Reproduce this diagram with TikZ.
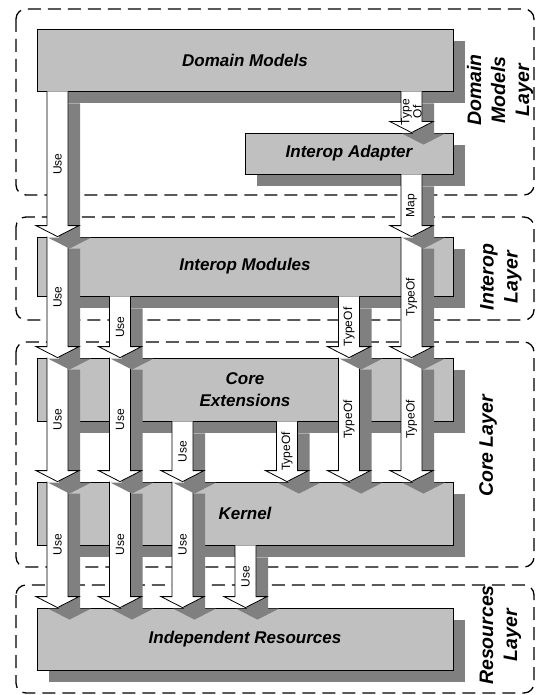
\documentclass[tikz,border=0pt]{standalone}
\usepackage{fontspec}
\setmainfont{Liberation Sans}
\usetikzlibrary{calc,shadows}
\definecolor{boxgray}{HTML}{C0C0C0}
\definecolor{shadowgray}{HTML}{808080}
\newcommand\arrpoly[4]{($(#1)+(#3-10.5,#4)$) -- ($(#2)+(#3-10.5,#4-11)$) -- ($(#2)+(#3-21.5,#4-11)$) -- ($(#2)+(#3,#4)$) -- ($(#2)+(#3+21.5,#4-11)$) -- ($(#2)+(#3+10.5,#4-11)$) -- ($(#1)+(#3+10.5,#4)$)}
\newcommand\blockarrow[4]{%
  \coordinate (#1s) at (#2);
  \coordinate (#1e) at (#3);
  \fill[shadowgray] \arrpoly{#1s}{#1e}{12}{12};
  \path[arrowline] \arrpoly{#1s}{#1e}{0}{0};
  \node[arrowlabel] (#1l) at ($(#1s)!0.5!(#1e)$) {#4};
}
\tikzset{
  modbox/.style={draw=black, line width=0.8bp, fill=boxgray, inner sep=0pt, align=center,
    font=\fontsize{17bp}{22bp}\selectfont\bfseries\itshape,
    drop shadow={shadow xshift=12bp, shadow yshift=-12bp, fill=shadowgray, draw=none, opacity=1}},
  layerbox/.style={draw=black, line width=1.3bp, dash pattern=on 13bp off 7bp, rounded corners=10bp},
  layerlabel/.style={rotate=90, font=\fontsize{19.5bp}{24bp}\selectfont\bfseries\itshape, align=center, inner sep=0pt},
  arrowline/.style={draw=black, fill=white, line width=0.8bp, line join=miter},
  arrowlabel/.style={rotate=90, font=\fontsize{12bp}{11bp}\selectfont, inner sep=0pt, align=center},
}
\begin{document}
\begin{tikzpicture}[x=1bp,y=-1bp]
\useasboundingbox (0,0) rectangle (536,695);
% layers
\draw[layerbox] (16,9) rectangle (534,195);
\draw[layerbox] (16,217) rectangle (534,320);
\draw[layerbox] (16,342) rectangle (534,567);
\draw[layerbox] (16,585) rectangle (534,693);
\node[layerlabel] (dmlayer) at (500,90) {Domain\\Models\\Layer};
\node[layerlabel] (iolayer) at (501,277) {Interop\\Layer};
\node[layerlabel] (corelayer) at (488,446) {Core Layer};
\node[layerlabel] (reslayer) at (500.5,635) {Resources\\Layer};
% boxes
\node[modbox, minimum width=416bp, minimum height=62bp] (dm) at (245,60) {Domain Models};
\node[modbox, minimum width=208bp, minimum height=41bp] (ia) at (349,153.5) {Interop Adapter};
\node[modbox, minimum width=416bp, minimum height=59bp] (im) at (245,266.5) {Interop Modules};
\node[modbox, minimum width=416bp, minimum height=63bp] (ce) at (245,389.5) {Core\\Extensions};
\node[modbox, minimum width=416bp, minimum height=63bp] (kn) at (245,513.5) {Kernel};
\node[modbox, minimum width=416bp, minimum height=62bp] (ir) at (245,639) {Independent Resources};
% columns
\coordinate (c1) at (57.5,0);
\coordinate (c2) at (120,0);
\coordinate (c3) at (182.5,0);
\coordinate (c4) at (245.5,0);
\coordinate (c5) at (287,0);
\coordinate (c6) at (349,0);
\coordinate (c7) at (411.5,0);
% Kernel -> Independent Resources
\blockarrow{ka}{c1 |- kn.north}{c1 |- ir.north}{Use}
\blockarrow{kb}{c2 |- kn.north}{c2 |- ir.north}{Use}
\blockarrow{kc}{c3 |- kn.north}{c3 |- ir.north}{Use}
\blockarrow{kd}{c4 |- kn.south}{c4 |- ir.north}{Use}
% Core Extensions -> Kernel
\blockarrow{ca}{c1 |- ce.north}{c1 |- kn.north}{Use}
\blockarrow{cb}{c2 |- ce.north}{c2 |- kn.north}{Use}
\blockarrow{cc}{c3 |- ce.south}{c3 |- kn.north}{Use}
\blockarrow{cd}{c5 |- ce.south}{c5 |- kn.north}{TypeOf}
\blockarrow{cf}{c6 |- ce.north}{c6 |- kn.north}{TypeOf}
\blockarrow{cg}{c7 |- ce.north}{c7 |- kn.north}{TypeOf}
% Interop Modules -> Core Extensions
\blockarrow{ma}{c1 |- im.north}{c1 |- ce.north}{Use}
\blockarrow{mb}{c2 |- im.south}{c2 |- ce.north}{Use}
\blockarrow{mf}{c6 |- im.south}{c6 |- ce.north}{TypeOf}
\blockarrow{mg}{c7 |- im.north}{c7 |- ce.north}{TypeOf}
% Interop Adapter -> Interop Modules
\blockarrow{ag}{c7 |- ia.south}{c7 |- im.north}{Map}
% Domain Models
\blockarrow{da}{c1 |- dm.south}{c1 |- im.north}{Use}
\blockarrow{dg}{c7 |- dm.south}{c7 |- ia.north}{Type\\Of}
\end{tikzpicture}
\end{document}
